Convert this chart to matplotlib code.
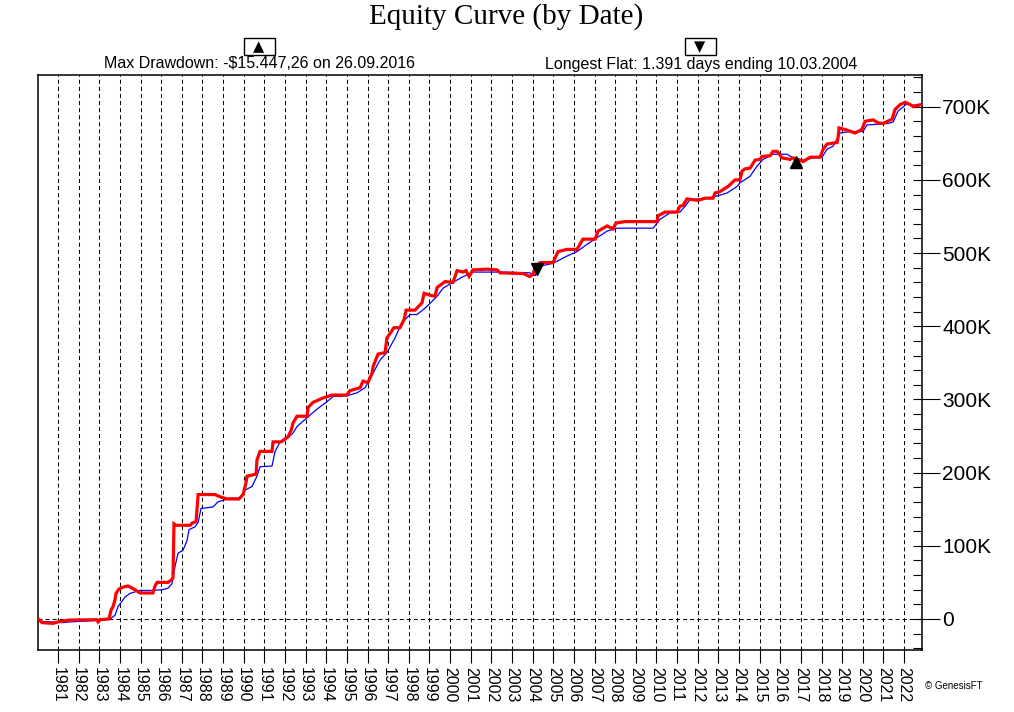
import numpy as np
import matplotlib
matplotlib.use('Agg')
import matplotlib.pyplot as plt
from matplotlib.patches import Rectangle
from matplotlib.ticker import FixedLocator, FuncFormatter

# equity curve (red), values in thousands of dollars, x in fractional years
red_x = [1980.08, 1980.22, 1980.76, 1981.0, 1981.53, 1982.89, 1982.94, 1983.04,
         1983.47, 1983.57, 1983.67, 1983.76, 1983.81, 1983.96, 1984.2, 1984.4,
         1984.73, 1984.97, 1985.6, 1985.7, 1985.8, 1986.33, 1986.48, 1986.57,
         1986.62, 1986.72, 1987.4, 1987.5, 1987.69, 1987.79, 1988.61, 1988.85,
         1989.19, 1989.77, 1989.97, 1990.11, 1990.16, 1990.6, 1990.64, 1990.79,
         1991.37, 1991.42, 1991.81, 1992.0, 1992.15, 1992.3, 1992.39, 1992.58,
         1993.07, 1993.12, 1993.36, 1993.84, 1994.28, 1995.0, 1995.15, 1995.64,
         1995.78, 1996.02, 1996.22, 1996.27, 1996.51, 1996.85, 1996.94, 1997.28,
         1997.57, 1997.77, 1997.87, 1998.3, 1998.64, 1998.74, 1999.08, 1999.27,
         1999.37, 1999.76, 2000.14, 2000.34, 2000.63, 2000.77, 2000.92, 2001.11,
         2001.79, 2002.28, 2002.42, 2003.54, 2003.87, 2004.02, 2004.12, 2004.36,
         2004.99, 2005.23, 2005.67, 2006.15, 2006.44, 2007.03, 2007.17, 2007.61,
         2007.9, 2008.04, 2008.48, 2010.03, 2010.08, 2010.42, 2011.0, 2011.14,
         2011.29, 2011.48, 2012.02, 2012.36, 2012.74, 2012.84, 2013.08, 2013.47,
         2013.81, 2014.05, 2014.15, 2014.29, 2014.54, 2014.78, 2015.02, 2015.12,
         2015.51, 2015.65, 2015.85, 2016.09, 2016.48, 2016.62, 2016.96, 2017.11,
         2017.45, 2017.93, 2018.08, 2018.27, 2018.75, 2018.8, 2018.85, 2019.24,
         2019.63, 2019.96, 2020.11, 2020.5, 2020.74, 2020.98, 2021.42, 2021.56,
         2021.81, 2022.05, 2022.29, 2022.44, 2022.82]
red_y = [-1, -5, -6, -4, -1.5, -1, -4, -1,
         0, 12, 17, 26, 35, 41, 44, 45,
         40, 35.5, 35.5, 45, 50, 50, 53, 56,
         130, 128, 128, 131, 133, 170, 170, 167,
         164, 164, 170, 186, 195, 198, 217, 229,
         229, 242, 242, 246, 249, 258, 268, 277,
         277, 289, 296, 302, 306, 306, 312, 316,
         325, 323, 336, 345, 362, 364, 384, 398,
         398, 409, 422, 422, 432, 445, 442, 441,
         453, 461, 460, 476, 474, 476, 468, 477,
         478, 477, 473, 472, 468, 471, 480, 487,
         487, 502, 505, 505, 519, 519, 530, 537,
         533, 541, 543, 543, 551, 556, 556, 564,
         565, 574, 572, 575, 575, 582, 584, 591,
         600, 600, 612, 615, 616, 627, 628, 632,
         633, 639, 639, 630, 628, 630, 627, 625,
         631, 631, 642, 649, 651, 657, 671, 668,
         664, 669, 680, 682, 678, 677, 683, 696,
         703, 706, 703, 700, 703]

# lagging curve (blue)
blue_x = [1980.08, 1981.24, 1981.58, 1982.89, 1983.52, 1983.76, 1983.91, 1984.25,
          1984.49, 1984.97, 1985.6, 1986.04, 1986.33, 1986.52, 1986.67, 1986.82,
          1987.06, 1987.25, 1987.35, 1987.64, 1987.79, 1987.93, 1988.51, 1988.75,
          1989.34, 1989.82, 1990.06, 1990.4, 1990.64, 1990.79, 1991.37, 1991.52,
          1991.76, 1992.1, 1992.39, 1992.58, 1993.07, 1993.31, 1993.7, 1994.04,
          1994.33, 1995.0, 1995.49, 1995.88, 1996.27, 1996.61, 1996.94, 1997.33,
          1997.67, 1998.06, 1998.4, 1998.88, 1999.37, 1999.66, 2000.14, 2000.58,
          2001.11, 2002.42, 2003.87, 2004.12, 2004.36, 2004.99, 2005.67, 2006.15,
          2006.64, 2007.12, 2007.61, 2008.09, 2009.84, 2010.17, 2010.66, 2011.14,
          2011.39, 2011.63, 2012.45, 2012.94, 2013.42, 2013.91, 2014.05, 2014.54,
          2014.88, 2015.17, 2015.65, 2016.33, 2016.62, 2017.11, 2017.59, 2018.03,
          2018.27, 2018.56, 2018.9, 2019.38, 2020.01, 2020.2, 2021.18, 2021.47,
          2021.71, 2022.15, 2022.44, 2022.78]
blue_y = [-3, -5, -4, -2, 0, 5, 17, 30,
          35, 39, 39, 40, 42, 48, 72, 90,
          94, 107, 122, 126, 132, 151, 153, 160,
          165, 165, 176, 181, 195, 208, 209, 229,
          242, 247, 254, 263, 275, 281, 290, 297,
          304, 305, 309, 316, 336, 354, 364, 384,
          405, 416, 416, 427, 441, 452, 460, 467,
          474, 474, 473, 469, 482, 486, 496, 502,
          512, 521, 530, 534, 534, 546, 555, 556,
          564, 573, 575, 578, 582, 591, 596, 605,
          619, 628, 635, 635, 630, 627, 630, 631,
          642, 646, 664, 666, 666, 675, 677, 679,
          694, 704, 702, 703]

years = list(range(1981, 2023))
y_major = [0, 100, 200, 300, 400, 500, 600, 700]

# event markers
dd_date, dd_value = 2016.74, 624      # max drawdown 26.09.2016
flat_date, flat_value = 2004.19, 478  # longest flat ending 10.03.2004

title = 'Equity Curve (by Date)'
dd_text = 'Max Drawdown: -$15.447,26 on 26.09.2016'
flat_text = 'Longest Flat: 1.391 days ending 10.03.2004'

plt.rcParams['font.family'] = ['Liberation Sans', 'DejaVu Sans']
plt.rcParams['lines.scale_dashes'] = False

fig = plt.figure(figsize=(10.14, 7.12), dpi=100)
ax = fig.add_axes([38 / 1014, 1 - 650 / 712, (922 - 38) / 1014, (650 - 75) / 712])

dash = (0, (2.9, 2.2))
for yr in years:
    ax.axvline(yr, color='black', lw=0.75, ls=dash, zorder=1)
ax.axhline(0, color='black', lw=0.75, ls=dash, zorder=1)

ax.plot(blue_x, blue_y, color='#0000ff', lw=0.9, zorder=2)
ax.plot(red_x, red_y, color='#ff0000', lw=2.3, zorder=3, solid_joinstyle='miter')

ax.plot([dd_date], [dd_value], marker='^', color='black', ms=8, zorder=4)
ax.plot([flat_date], [flat_value], marker='v', color='black', ms=8, zorder=4)

ax.set_xlim(1980.03, 2022.87)
ax.set_ylim(-42.4, 743.3)

ax.xaxis.set_major_locator(FixedLocator(years))
ax.set_xticklabels([str(y) for y in years], rotation=270, fontsize=11.5)
ax.tick_params(axis='x', direction='out', length=9, width=0.8, pad=3)

ax.yaxis.tick_right()
ax.yaxis.set_major_locator(FixedLocator(y_major))
ax.yaxis.set_minor_locator(FixedLocator(np.arange(-40, 741, 20)))
ax.yaxis.remove_overlapping_locs = False
ax.yaxis.set_major_formatter(FuncFormatter(lambda v, p: '0' if v == 0 else '%dK' % v))
ax.tick_params(axis='y', which='major', direction='out', length=13, width=0.8,
               pad=1.5, labelsize=15)
ax.tick_params(axis='y', which='minor', direction='in', length=6.5, width=0.8)

for s in ax.spines.values():
    s.set_linewidth(1.1)

fig.text(506 / 1014, 1 - 17 / 712, title, ha='center', va='center',
         family='Liberation Serif', fontsize=21)
fig.text(259 / 1014, 1 - 64 / 712, dd_text, ha='center', va='center', fontsize=11.5)
fig.text(701 / 1014, 1 - 64 / 712, flat_text, ha='center', va='center', fontsize=11.5)

for cx, sym in [(259, '▲'), (700, '▼')]:
    fig.patches.append(Rectangle(((cx - 15) / 1014, 1 - 55 / 712), 31 / 1014, 17 / 712,
                                 transform=fig.transFigure, fill=False,
                                 edgecolor='black', lw=1.0))
    fig.text(cx / 1014, 1 - 46.5 / 712, sym, ha='center', va='center',
             family='DejaVu Sans', fontsize=10.5)

fig.text(925 / 1014, 1 - 686 / 712, '© GenesisFT', ha='left', va='center', fontsize=7)

fig.savefig('out.png', dpi=100)
